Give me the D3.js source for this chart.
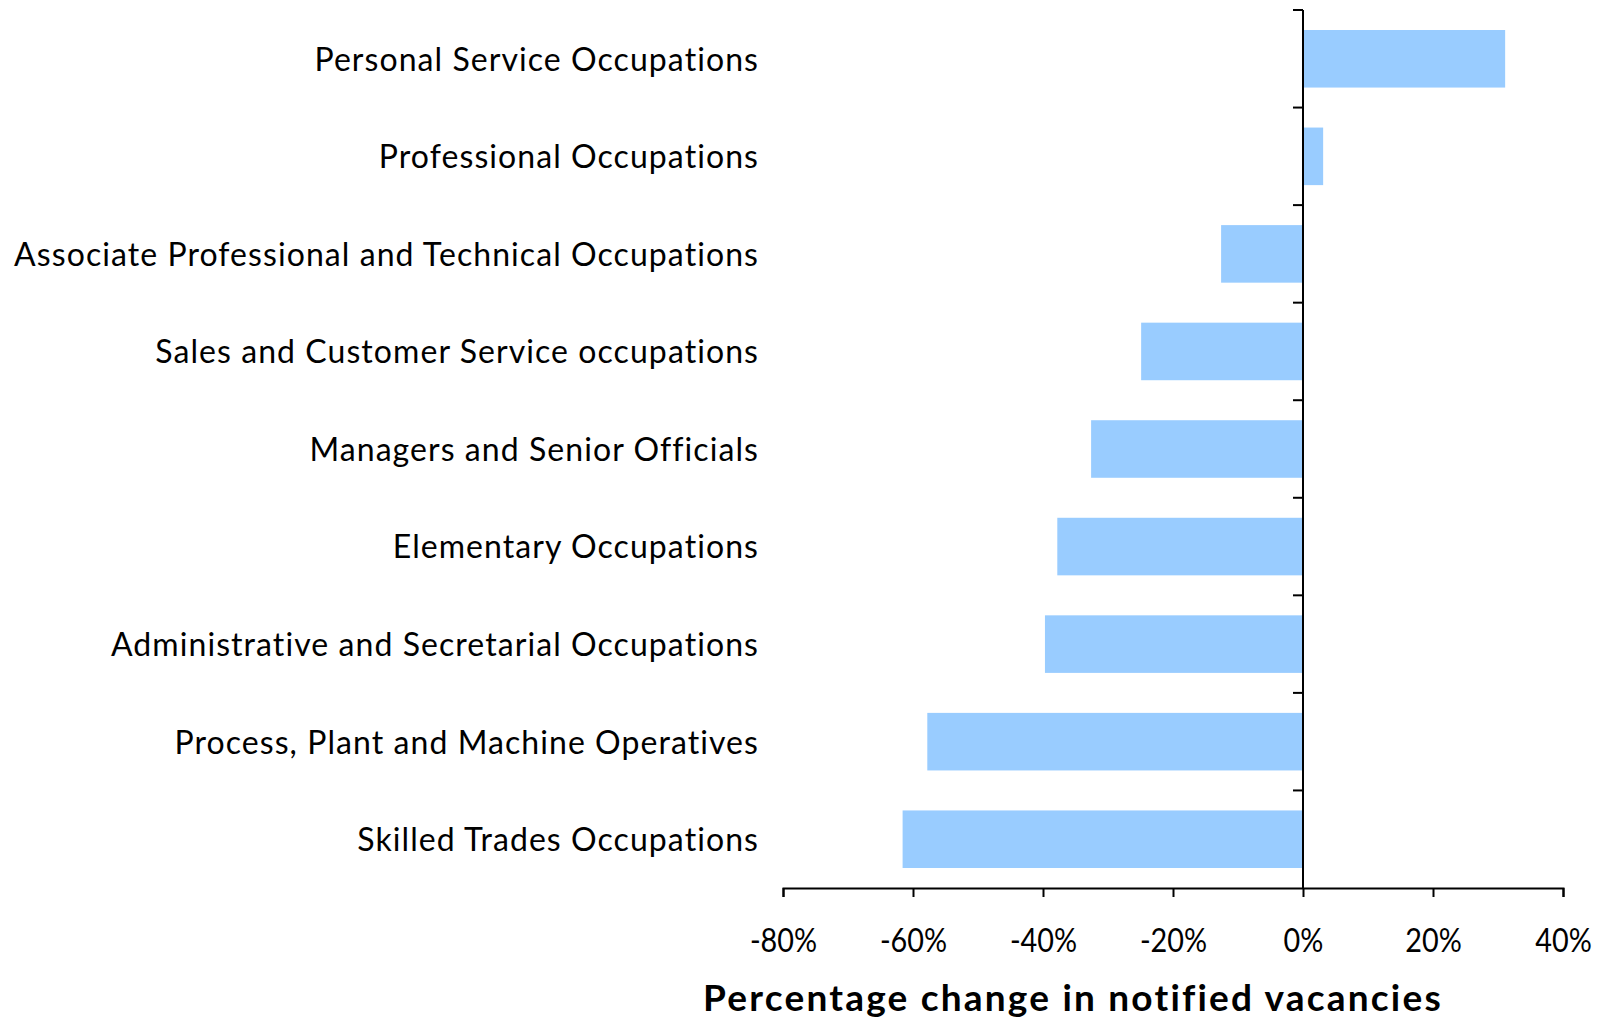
<!DOCTYPE html>
<html>
<head>
<meta charset="utf-8">
<script src="https://cdn.jsdelivr.net/npm/d3@7"></script>
<style>
  html, body { margin: 0; padding: 0; background: #fff; }
  svg { display: block; }
</style>
</head>
<body>
<svg id="chart" width="1601" height="1021"></svg>
<script>
const categories = [
  "Personal Service Occupations",
  "Professional Occupations",
  "Associate Professional and Technical Occupations",
  "Sales and Customer Service occupations",
  "Managers and Senior Officials",
  "Elementary Occupations",
  "Administrative and Secretarial Occupations",
  "Process, Plant and Machine Operatives",
  "Skilled Trades Occupations"
];
const values = [31.1, 3.1, -12.6, -24.9, -32.6, -37.8, -39.7, -57.8, -61.6];
const xTicks = [-80, -60, -40, -20, 0, 20, 40];
const xTitle = "Percentage change in notified vacancies";

const svg = d3.select("#chart");
const margin = { left: 783, right: 1563, top: 10, bottom: 888 };

const x = d3.scaleLinear().domain([-80, 40]).range([margin.left, margin.right]);
const y = d3.scaleBand().domain(categories).range([margin.top, margin.bottom])
  .paddingInner(0.41).paddingOuter(0.205);

const font = "Lato, 'Noto Sans', sans-serif";

// bars
svg.append("g").selectAll("rect")
  .data(categories)
  .join("rect")
  .attr("x", (d, i) => x(Math.min(0, values[i])))
  .attr("width", (d, i) => Math.abs(x(values[i]) - x(0)))
  .attr("y", d => y(d))
  .attr("height", y.bandwidth())
  .attr("fill", "#99CCFF");

// x axis
const xAxis = d3.axisBottom(x)
  .tickValues(xTicks)
  .tickFormat(d => d + "%")
  .tickSize(9)
  .tickSizeOuter(9)
  .tickPadding(55);
const gx = svg.append("g").attr("transform", `translate(0,${margin.bottom})`).call(xAxis);
gx.select(".domain").attr("stroke", "#000").attr("stroke-width", 2);
gx.selectAll(".tick line").attr("stroke", "#000").attr("stroke-width", 2);
gx.selectAll(".tick text")
  .attr("font-family", font)
  .attr("font-size", 32)
  .attr("fill", "#000")
  .attr("dy", "0")
  .attr("transform", "scale(0.9,1)");

// y axis at zero
const step = y.step();
const yBoundaries = d3.range(categories.length + 1).map(i => margin.top + i * step);
const gy = svg.append("g");
gy.append("line")
  .attr("x1", x(0)).attr("x2", x(0))
  .attr("y1", margin.top).attr("y2", margin.bottom)
  .attr("stroke", "#000").attr("stroke-width", 2);
gy.selectAll("line.tick")
  .data(yBoundaries.slice(0, -1))
  .join("line")
  .attr("class", "tick")
  .attr("x1", x(0) - 10).attr("x2", x(0))
  .attr("y1", d => d).attr("y2", d => d)
  .attr("stroke", "#000").attr("stroke-width", 2);

// category labels
svg.append("g").selectAll("text")
  .data(categories)
  .join("text")
  .attr("x", 759)
  .attr("y", d => y(d) + y.bandwidth() / 2)
  .attr("dy", "0.37em")
  .attr("text-anchor", "end")
  .attr("font-family", font)
  .attr("font-size", 32)
  .attr("letter-spacing", "1.07px")
  .attr("fill", "#000")
  .text(d => d);

// x title
svg.append("text")
  .attr("x", 1073)
  .attr("y", 1011)
  .attr("text-anchor", "middle")
  .attr("font-family", font)
  .attr("font-weight", "bold")
  .attr("font-size", 37)
  .attr("letter-spacing", "2.2px")
  .attr("fill", "#000")
  .text(xTitle);
</script>
</body>
</html>
